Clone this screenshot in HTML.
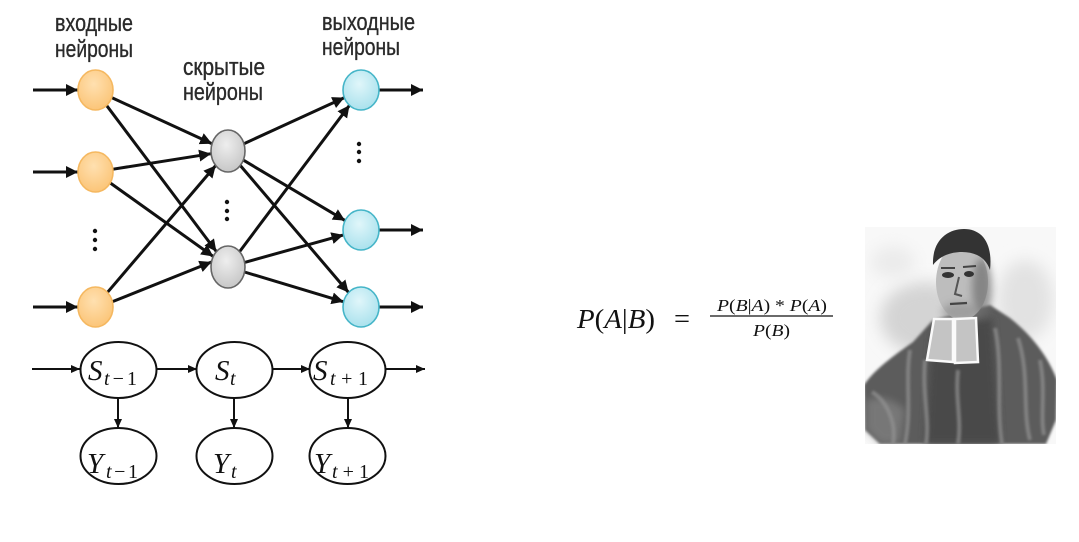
<!DOCTYPE html>
<html>
<head>
<meta charset="utf-8">
<style>
html,body{margin:0;padding:0;background:#fff;}
body{width:1079px;height:542px;overflow:hidden;}
svg{display:block;}
.lbl{font-family:"Liberation Sans","DejaVu Sans",sans-serif;font-size:24px;fill:#2a2a2a;stroke:#2a2a2a;stroke-width:0.35;}
.m{font-family:"Liberation Serif","DejaVu Serif",serif;fill:#111;}
</style>
</head>
<body>
<svg width="1079" height="542" viewBox="0 0 1079 542" xmlns="http://www.w3.org/2000/svg">
<defs>
  <marker id="ah" markerUnits="userSpaceOnUse" markerWidth="14" markerHeight="14" refX="12" refY="6.5" orient="auto">
    <path d="M0,0.5 L12,6.5 L0,12.5 Z" fill="#111"/>
  </marker>
  <marker id="ah2" markerUnits="userSpaceOnUse" markerWidth="10" markerHeight="10" refX="9" refY="4.5" orient="auto">
    <path d="M0,0.5 L9,4.5 L0,8.5 Z" fill="#111"/>
  </marker>
  <radialGradient id="gOr" cx="45%" cy="35%" r="70%">
    <stop offset="0" stop-color="#ffe0b0"/>
    <stop offset="1" stop-color="#fbc374"/>
  </radialGradient>
  <radialGradient id="gGr" cx="45%" cy="35%" r="70%">
    <stop offset="0" stop-color="#eeeeee"/>
    <stop offset="1" stop-color="#c4c4c4"/>
  </radialGradient>
  <radialGradient id="gCy" cx="45%" cy="35%" r="70%">
    <stop offset="0" stop-color="#e0f6fa"/>
    <stop offset="1" stop-color="#a6e0ec"/>
  </radialGradient>
  <filter id="b4" x="-50%" y="-50%" width="200%" height="200%"><feGaussianBlur stdDeviation="4"/></filter>
  <filter id="b8" x="-50%" y="-50%" width="200%" height="200%"><feGaussianBlur stdDeviation="8"/></filter>
  <filter id="b1" x="-20%" y="-20%" width="140%" height="140%"><feGaussianBlur stdDeviation="1.2"/></filter>
  <clipPath id="pc"><rect x="865" y="227" width="191" height="217"/></clipPath>
</defs>

<!-- labels -->
<text class="lbl" x="55" y="31" textLength="78" lengthAdjust="spacingAndGlyphs">входные</text>
<text class="lbl" x="55" y="57" textLength="78" lengthAdjust="spacingAndGlyphs">нейроны</text>
<text class="lbl" x="183" y="75" textLength="82" lengthAdjust="spacingAndGlyphs">скрытые</text>
<text class="lbl" x="183" y="100" textLength="80" lengthAdjust="spacingAndGlyphs">нейроны</text>
<text class="lbl" x="322" y="30" textLength="93" lengthAdjust="spacingAndGlyphs">выходные</text>
<text class="lbl" x="322" y="55" textLength="78" lengthAdjust="spacingAndGlyphs">нейроны</text>

<!-- network edges -->
<g stroke="#111" stroke-width="3" fill="none" marker-end="url(#ah)">
  <line x1="33" y1="90" x2="78" y2="90"/>
  <line x1="33" y1="172" x2="78" y2="172"/>
  <line x1="33" y1="307" x2="78" y2="307"/>

  <line x1="111.2" y1="97.4" x2="212.1" y2="143.7"/>
  <line x1="106.4" y1="105.2" x2="216.4" y2="251.6"/>
  <line x1="112.3" y1="169.3" x2="211.1" y2="153.7"/>
  <line x1="109.8" y1="182.6" x2="213.3" y2="256.5"/>
  <line x1="107.2" y1="292.7" x2="215.7" y2="165.5"/>
  <line x1="111.9" y1="301.9" x2="211.5" y2="262"/>

  <line x1="243.9" y1="143.7" x2="344.4" y2="97.6"/>
  <line x1="243.3" y1="160.1" x2="345.1" y2="220.6"/>
  <line x1="240.3" y1="165.5" x2="348.6" y2="292.5"/>
  <line x1="239.6" y1="251.6" x2="349.5" y2="105.3"/>
  <line x1="244.6" y1="262.4" x2="343.5" y2="234.9"/>
  <line x1="244.5" y1="272" x2="343.6" y2="301.8"/>

  <line x1="379" y1="90" x2="423" y2="90"/>
  <line x1="379" y1="230" x2="423" y2="230"/>
  <line x1="379" y1="307" x2="423" y2="307"/>
</g>

<!-- nodes -->
<g stroke-width="1.6">
  <ellipse cx="95.5" cy="90" rx="17.5" ry="20" fill="url(#gOr)" stroke="#f5b860"/>
  <ellipse cx="95.5" cy="172" rx="17.5" ry="20" fill="url(#gOr)" stroke="#f5b860"/>
  <ellipse cx="95.5" cy="307" rx="17.5" ry="20" fill="url(#gOr)" stroke="#f5b860"/>
  <ellipse cx="228" cy="151" rx="17" ry="21" fill="url(#gGr)" stroke="#666"/>
  <ellipse cx="228" cy="267" rx="17" ry="21" fill="url(#gGr)" stroke="#666"/>
  <ellipse cx="361" cy="90" rx="18" ry="20" fill="url(#gCy)" stroke="#45b5c8"/>
  <ellipse cx="361" cy="230" rx="18" ry="20" fill="url(#gCy)" stroke="#45b5c8"/>
  <ellipse cx="361" cy="307" rx="18" ry="20" fill="url(#gCy)" stroke="#45b5c8"/>
</g>

<!-- vertical dots -->
<g fill="#111">
  <circle cx="95" cy="231" r="2.2"/><circle cx="95" cy="240" r="2.2"/><circle cx="95" cy="249" r="2.2"/>
  <circle cx="227" cy="202" r="2.2"/><circle cx="227" cy="211" r="2.2"/><circle cx="227" cy="219" r="2.2"/>
  <circle cx="359" cy="144" r="2.2"/><circle cx="359" cy="152" r="2.2"/><circle cx="359" cy="161" r="2.2"/>
</g>

<!-- HMM chain -->
<g stroke="#111" stroke-width="2" fill="none" marker-end="url(#ah2)">
  <line x1="32" y1="369" x2="80" y2="369"/>
  <line x1="157" y1="369" x2="197" y2="369"/>
  <line x1="272" y1="369" x2="310" y2="369"/>
  <line x1="385" y1="369" x2="425" y2="369"/>
  <line x1="118" y1="398" x2="118" y2="428"/>
  <line x1="234" y1="398" x2="234" y2="428"/>
  <line x1="348" y1="398" x2="348" y2="428"/>
</g>
<g stroke="#111" stroke-width="2" fill="#fff">
  <ellipse cx="118.5" cy="370" rx="38" ry="28"/>
  <ellipse cx="234.5" cy="370" rx="38" ry="28"/>
  <ellipse cx="347.5" cy="370" rx="38" ry="28"/>
  <ellipse cx="118.5" cy="456" rx="38" ry="28"/>
  <ellipse cx="234.5" cy="456" rx="38" ry="28"/>
  <ellipse cx="347.5" cy="456" rx="38" ry="28"/>
</g>
<g class="m">
  <text x="88" y="380" font-size="29" font-style="italic">S</text>
  <text x="104" y="385" font-size="20" textLength="33" lengthAdjust="spacing"><tspan font-style="italic">t</tspan>−1</text>
  <text x="215" y="380" font-size="29" font-style="italic">S</text>
  <text x="230" y="385" font-size="20" font-style="italic">t</text>
  <text x="313" y="380" font-size="29" font-style="italic">S</text>
  <text x="330" y="385" font-size="20" textLength="38" lengthAdjust="spacing"><tspan font-style="italic">t</tspan>+1</text>

  <text x="87" y="473" font-size="29" font-style="italic">Y</text>
  <text x="106" y="478" font-size="20" textLength="32" lengthAdjust="spacing"><tspan font-style="italic">t</tspan>−1</text>
  <text x="213" y="473" font-size="29" font-style="italic">Y</text>
  <text x="231" y="478" font-size="20" font-style="italic">t</text>
  <text x="314" y="473" font-size="29" font-style="italic">Y</text>
  <text x="332" y="478" font-size="20" textLength="37" lengthAdjust="spacing"><tspan font-style="italic">t</tspan>+1</text>
</g>

<!-- Bayes formula -->
<g class="m">
  <text x="577" y="328" font-size="27" textLength="78" lengthAdjust="spacingAndGlyphs"><tspan font-style="italic">P</tspan>(<tspan font-style="italic">A</tspan>|<tspan font-style="italic">B</tspan>)</text>
  <text x="674" y="328" font-size="28" textLength="16" lengthAdjust="spacingAndGlyphs">=</text>
  <text x="717" y="311" font-size="17" textLength="110" lengthAdjust="spacingAndGlyphs"><tspan font-style="italic">P</tspan>(<tspan font-style="italic">B</tspan>|<tspan font-style="italic">A</tspan>) * <tspan font-style="italic">P</tspan>(<tspan font-style="italic">A</tspan>)</text>
  <text x="753" y="336" font-size="17" textLength="37" lengthAdjust="spacingAndGlyphs"><tspan font-style="italic">P</tspan>(<tspan font-style="italic">B</tspan>)</text>
</g>
<line x1="710" y1="316" x2="833" y2="316" stroke="#111" stroke-width="1.3"/>

<!-- Portrait (approximation) -->
<g clip-path="url(#pc)">
  <rect x="865" y="227" width="191" height="217" fill="#f8f8f8"/>
  <ellipse cx="925" cy="318" rx="45" ry="36" fill="#d4d4d4" filter="url(#b8)"/>
  <ellipse cx="1025" cy="300" rx="28" ry="40" fill="#e2e2e2" filter="url(#b8)"/>
  <ellipse cx="893" cy="262" rx="22" ry="16" fill="#ebebeb" filter="url(#b8)"/>
  <!-- robe -->
  <path d="M864,385 C874,370 893,356 913,342 L933,320 L990,305 L1010,318 C1030,334 1047,354 1057,380 L1056,420 L1046,444 L880,444 L865,430 Z" fill="#5c5c5c" filter="url(#b1)"/>
  <path d="M932,330 L992,318 L1000,444 L925,444 Z" fill="#4a4a4a" filter="url(#b4)"/>
  <path d="M866,400 C880,395 895,400 905,410 L900,444 L880,444 L866,430 Z" fill="#8a8a8a" opacity="0.6" filter="url(#b4)"/>
  <g stroke="#939393" stroke-width="4" fill="none" opacity="0.7" filter="url(#b1)">
    <path d="M872,392 C885,400 897,420 893,444"/>
    <path d="M910,350 C905,380 912,410 905,444"/>
    <path d="M925,360 C922,395 930,420 926,444"/>
    <path d="M995,328 C1003,365 996,405 1002,444"/>
    <path d="M1018,338 C1030,375 1022,410 1030,440"/>
    <path d="M1040,360 C1046,390 1040,415 1044,435"/>
    <path d="M958,370 C955,400 962,420 958,444"/>
  </g>
  <!-- head -->
  <ellipse cx="962" cy="282" rx="26" ry="38" fill="#bdbdbd"/>
  <ellipse cx="982" cy="288" rx="10" ry="30" fill="#6e6e6e" opacity="0.7" filter="url(#b4)"/>
  <ellipse cx="960" cy="312" rx="18" ry="10" fill="#8a8a8a" opacity="0.6" filter="url(#b4)"/>
  <path d="M933,265 C932,240 948,229 964,229 C982,229 993,243 990,270 C986,258 976,252 962,252 C949,252 939,257 933,265 Z" fill="#333"/>
  <ellipse cx="948" cy="275" rx="6" ry="3" fill="#333"/>
  <ellipse cx="969" cy="274" rx="5" ry="3" fill="#333"/>
  <path d="M941,268 L955,268 M963,267 L976,266" stroke="#444" stroke-width="2"/>
  <path d="M959,277 L955,294 L962,296" stroke="#555" stroke-width="2" fill="none"/>
  <path d="M950,304 L967,303" stroke="#444" stroke-width="2.2"/>
  <!-- collar bands -->
  <path d="M934,319 L953,319 L953,362 L927,360 Z" fill="#c4c4c4" stroke="#fafafa" stroke-width="2.5"/>
  <path d="M955,319 L976,318 L978,362 L955,363 Z" fill="#c4c4c4" stroke="#fafafa" stroke-width="2.5"/>
</g>
</svg>
</body>
</html>
